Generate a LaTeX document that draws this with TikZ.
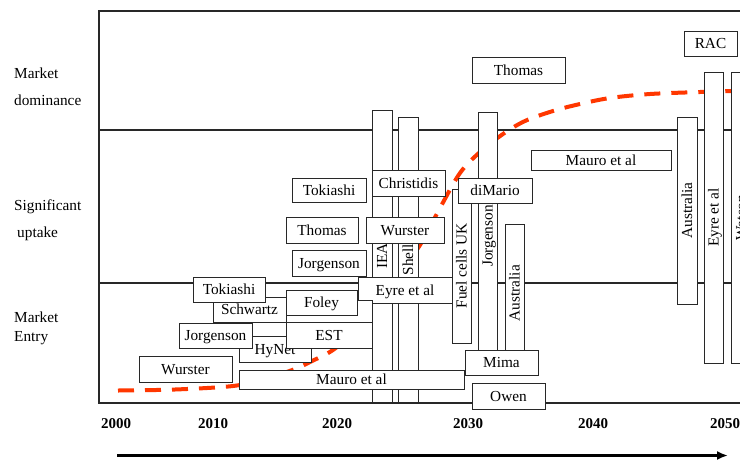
\documentclass[tikz,border=0pt]{standalone}
\usepackage{fontspec}
\setmainfont{Liberation Serif}
\usetikzlibrary{arrows.meta}
\definecolor{curvered}{RGB}{255,55,0}
\definecolor{ink}{RGB}{40,40,40}
\tikzset{
  bx/.style={draw=ink, line width=0.9pt, fill=white, inner sep=0pt, outer sep=0pt,
    font=\fontsize{15.3}{18}\selectfont, text height=11pt, text depth=1pt, align=center},
  framel/.style={draw=ink, line width=1.1pt},
  sidelbl/.style={anchor=base west, inner sep=0pt, font=\fontsize{15.3}{18}\selectfont},
  yearlbl/.style={anchor=base, inner sep=0pt, font=\fontsize{15}{18}\selectfont\bfseries},
  trend/.style={draw=curvered, line width=4pt, dash pattern=on 16pt off 11pt},
  axisarrow/.style={draw=black, line width=2.5pt, -{Latex[length=11pt,width=9pt]}},
}
\newcommand\hb[6]{\node[bx, minimum width={#4-#2}, minimum height={#5-#3}] (#1) at ({(#2+#4)/2},{(#3+#5)/2}) {#6};}
\newcommand\vb[6]{\node[bx, rotate=90, minimum width={#5-#3}, minimum height={#4-#2}] (#1) at ({(#2+#4)/2},{(#3+#5)/2}) {#6};}
\begin{document}
\begin{tikzpicture}[x=1pt,y=-1pt]
\useasboundingbox (0,0) rectangle (740,459);
\clip (0,0) rectangle (740,459);
\fill[white] (0,0) rectangle (740,459);
% frame
\draw[framel] (760,11) -- (99,11) -- (99,403) -- (760,403);
\draw[framel] (99,130) -- (760,130);
\draw[framel] (99,283) -- (760,283);
% side labels
\node[sidelbl] (sl1) at (14,78) {Market};
\node[sidelbl] (sl2) at (14,105) {dominance};
\node[sidelbl] (sl3) at (14,210) {Significant};
\node[sidelbl] (sl4) at (17,237) {uptake};
\node[sidelbl] (sl5) at (14,322) {Market};
\node[sidelbl] (sl6) at (14,341) {Entry};
% years
\node[yearlbl] (y2000) at (116,428) {2000};
\node[yearlbl] (y2010) at (213,428) {2010};
\node[yearlbl] (y2020) at (337,428) {2020};
\node[yearlbl] (y2030) at (468,428) {2030};
\node[yearlbl] (y2040) at (593,428) {2040};
\node[yearlbl] (y2050) at (725,428) {2050};
% axis arrow
\coordinate (axL) at (117,455.5);
\coordinate (axR) at (728,455.5);
\draw[axisarrow] (axL) -- (axR);
% trend curve
\draw[trend] plot[smooth, tension=0.55] coordinates {(118,390.5) (175,389.5) (233,386) (265,379) (295,369) (310,362) (333,350) (352,333) (370,313) (395,280) (420,245) (440,208) (460,173) (480,152) (503,134) (525,121) (553,111) (580,104) (610,98) (650,94) (700,92) (733,91)};
% right side
\vb{watson}{731}{72}{751}{363}{Watson}
\vb{eyreR}{704}{72}{723}{363}{Eyre et al}
\vb{austR}{677}{117}{697}{304}{Australia}
\hb{mauroU}{531}{150}{671}{170}{Mauro et al}
\hb{thomasT}{472}{57}{565}{83}{Thomas}
\hb{rac}{684}{31}{737}{56}{RAC}
% central bars
\vb{iea}{372}{110}{392}{402}{IEA}
\vb{shell}{398}{117}{418}{402}{Shell}
\hb{christidis}{372}{170}{445}{196}{Christidis}
\hb{wursterU}{366}{217}{444}{243}{Wurster}
\hb{eyreM}{358}{277}{452}{303}{Eyre et al}
\vb{fuelcells}{452}{189}{471}{343}{Fuel cells UK}
\vb{jorgB}{478}{112}{497}{360}{Jorgenson}
\vb{austB}{505}{224}{524}{362}{Australia}
\hb{dimario}{458}{178}{532}{203}{diMario}
\hb{mima}{465}{350}{538}{375}{Mima}
\hb{owen}{472}{383}{545}{409}{Owen}
% significant uptake left
\hb{tokiU}{292}{178}{366}{202}{Tokiashi}
\hb{thomasM}{286}{217}{358}{243}{Thomas}
\hb{jorgM}{292}{250}{366}{276}{Jorgenson}
% market entry
\hb{schwartz}{213}{297}{286}{322}{Schwartz}
\hb{hidden}{286}{300}{372}{322}{}
\hb{hynet}{239}{336}{311}{362}{HyNet}
\hb{est}{286}{322}{372}{348}{EST}
\hb{foley}{286}{290}{357}{315}{Foley}
\hb{tokiL}{193}{277}{265}{302}{Tokiashi}
\hb{jorgL}{179}{323}{252}{348}{Jorgenson}
\hb{wursterL}{139}{356}{232}{382}{Wurster}
\hb{mauroL}{239}{370}{464}{389}{Mauro et al}
\end{tikzpicture}
\end{document}
